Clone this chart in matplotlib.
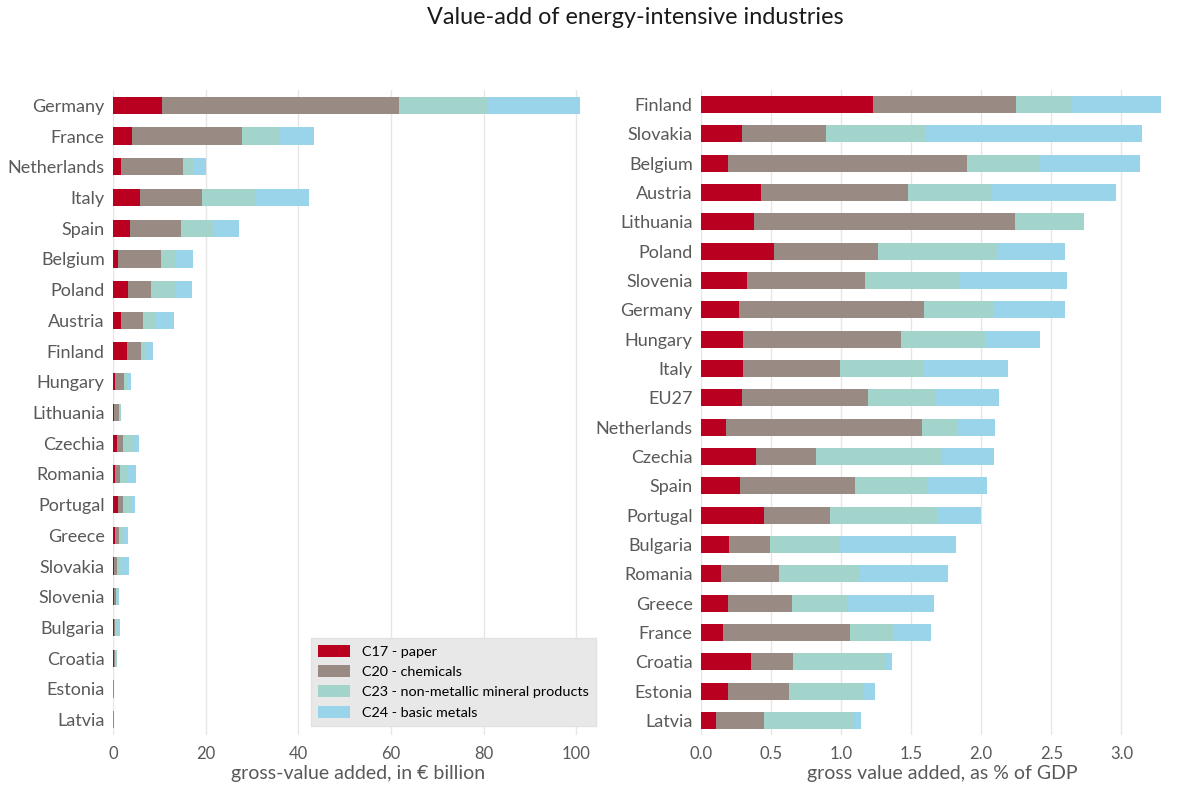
import matplotlib
matplotlib.use("Agg")
import matplotlib.pyplot as plt
import numpy as np
from matplotlib.patches import Patch

plt.rcParams['font.family'] = ['Lato', 'DejaVu Sans']

# ---- Left panel: gross value added, EUR billion ----
countries_abs = ["Germany", "France", "Netherlands", "Italy", "Spain", "Belgium", "Poland",
                 "Austria", "Finland", "Hungary", "Lithuania", "Czechia", "Romania", "Portugal",
                 "Greece", "Slovakia", "Slovenia", "Bulgaria", "Croatia", "Estonia", "Latvia"]
abs_c17 = [10.5, 4.2, 1.7, 5.9, 3.7, 1.0, 3.3, 1.8, 3.1, 0.5, 0.2, 0.95, 0.45, 1.1, 0.4, 0.3, 0.15, 0.15, 0.25, 0.05, 0.03]
abs_c20 = [51.2, 23.7, 13.4, 13.3, 11.0, 9.4, 5.0, 4.7, 2.9, 1.8, 1.2, 1.15, 1.05, 1.1, 0.9, 0.6, 0.45, 0.25, 0.2, 0.1, 0.08]
abs_c23 = [19.3, 8.2, 2.4, 11.4, 6.9, 3.0, 5.4, 2.7, 1.0, 0.9, 0.25, 2.5, 1.5, 1.9, 0.8, 0.8, 0.35, 0.4, 0.35, 0.13, 0.17]
abs_c24 = [19.9, 7.3, 2.5, 11.8, 5.7, 3.8, 3.3, 3.9, 1.7, 0.7, 0.0, 1.1, 2.0, 0.7, 1.2, 1.7, 0.4, 0.7, 0.02, 0.02, 0.015]

# ---- Right panel: gross value added, % of GDP ----
countries_pct = ["Finland", "Slovakia", "Belgium", "Austria", "Lithuania", "Poland", "Slovenia",
                 "Germany", "Hungary", "Italy", "EU27", "Netherlands", "Czechia", "Spain",
                 "Portugal", "Bulgaria", "Romania", "Greece", "France", "Croatia", "Estonia", "Latvia"]
pct_c17 = [1.23, 0.29, 0.19, 0.43, 0.38, 0.52, 0.33, 0.27, 0.30, 0.30, 0.29, 0.18, 0.39, 0.28, 0.45, 0.20, 0.145, 0.19, 0.16, 0.36, 0.19, 0.11]
pct_c20 = [1.02, 0.60, 1.71, 1.05, 1.86, 0.74, 0.84, 1.32, 1.13, 0.69, 0.90, 1.40, 0.43, 0.82, 0.47, 0.29, 0.41, 0.46, 0.90, 0.30, 0.44, 0.34]
pct_c23 = [0.39, 0.71, 0.52, 0.59, 0.49, 0.85, 0.67, 0.50, 0.60, 0.60, 0.48, 0.25, 0.90, 0.51, 0.77, 0.50, 0.58, 0.40, 0.31, 0.66, 0.53, 0.64]
pct_c24 = [0.64, 1.55, 0.71, 0.89, 0.00, 0.49, 0.77, 0.51, 0.39, 0.60, 0.46, 0.27, 0.37, 0.43, 0.31, 0.83, 0.63, 0.61, 0.27, 0.04, 0.08, 0.05]

sector_labels = ["C17 - paper", "C20 - chemicals", "C23 - non-metallic mineral products", "C24 - basic metals"]
colors = ["#BA0020", "#998B84", "#A3D4CC", "#9AD4EA"]

text_col = "#595959"

fig = plt.figure(figsize=(12, 7.91), dpi=100)
W, H = 1200, 791
ax1 = fig.add_axes([113 / W, 1 - 735 / H, (604 - 113) / W, (735 - 90) / H])
ax2 = fig.add_axes([701 / W, 1 - 735 / H, (1183 - 701) / W, (735 - 90) / H])


def stacked(ax, cats, series, height):
    y = np.arange(len(cats))
    left = np.zeros(len(cats))
    for vals, col in zip(series, colors):
        v = np.array(vals)
        ax.barh(y, v, left=left, height=height, color=col, edgecolor='none', zorder=3)
        left += v
    ax.set_yticks(y)
    ax.set_yticklabels(cats)
    ax.set_ylim(len(cats) - 0.5, -0.5)
    for s in ax.spines.values():
        s.set_visible(False)
    ax.tick_params(axis='both', length=0, colors=text_col)
    ax.tick_params(axis='y', labelsize=13, pad=6)
    ax.tick_params(axis='x', labelsize=12, pad=8)
    ax.grid(axis='x', color='#E6E6E6', linewidth=1, zorder=0)
    ax.set_axisbelow(True)


stacked(ax1, countries_abs, [abs_c17, abs_c20, abs_c23, abs_c24], 0.56)
ax1.set_xlim(0, 106)
ax1.set_xticks([0, 20, 40, 60, 80, 100])
ax1.set_xlabel("gross-value added, in € billion", fontsize=14, color=text_col, labelpad=2)

stacked(ax2, countries_pct, [pct_c17, pct_c20, pct_c23, pct_c24], 0.58)
ax2.set_xlim(0, 3.44)
ax2.set_xticks([0.0, 0.5, 1.0, 1.5, 2.0, 2.5, 3.0])
ax2.set_xticklabels(["0.0", "0.5", "1.0", "1.5", "2.0", "2.5", "3.0"])
ax2.set_xlabel("gross value added, as % of GDP", fontsize=14, color=text_col, labelpad=2)

handles = [Patch(facecolor=c, edgecolor='none') for c in colors]
leg = ax1.legend(handles, sector_labels, loc='lower right', bbox_to_anchor=(0.998, 0.003),
                 fontsize=10.4, frameon=True, facecolor='#E8E8E8', edgecolor='#E2E2E2',
                 framealpha=1, handlelength=2.2, handleheight=0.9, labelspacing=0.5,
                 borderpad=0.5, fancybox=False)

fig.text(635 / W, 1 - 18 / H, "Value-add of energy-intensive industries", ha='center', va='center',
         fontsize=16.8, color='#1a1a1a')

fig.savefig("out.png", dpi=100, facecolor='white')
